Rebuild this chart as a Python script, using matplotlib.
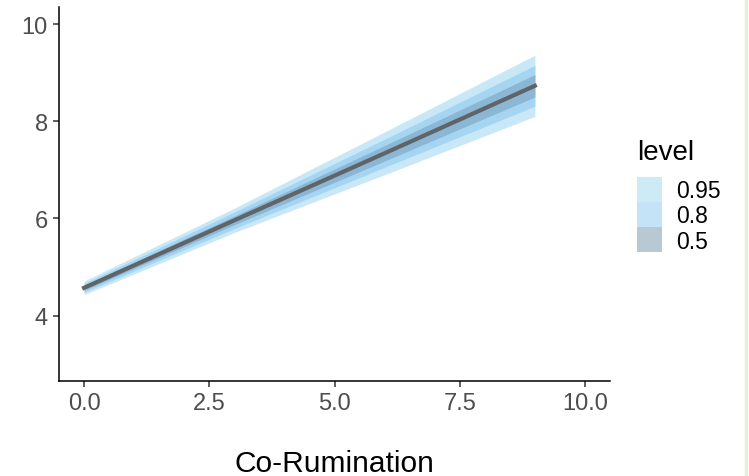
import matplotlib.pyplot as plt
from matplotlib.patches import Patch
from matplotlib.lines import Line2D

plt.rcParams['font.family'] = ['Liberation Sans', 'DejaVu Sans']

# fitted line and interval half-widths
x = [0, 3, 6, 9]
fit = [4.57, 5.96, 7.34, 8.73]
hw95 = [0.14, 0.25, 0.44, 0.63]
hw80 = [0.09, 0.17, 0.29, 0.42]
hw50 = [0.05, 0.09, 0.16, 0.23]

levels = ["0.95", "0.8", "0.5"]
band_colors = ["#c8e7f7", "#a6d5f1", "#8bb7d5"]
key_colors = ["#cdebf5", "#c4e3f7", "#b8c9d3"]

fig = plt.figure(figsize=(7.49, 4.77), dpi=100)
ax = fig.add_axes([0.0788, 0.199, 0.7356, 0.784])

for hw, col in zip([hw95, hw80, hw50], band_colors):
    lo = [f - h for f, h in zip(fit, hw)]
    hi = [f + h for f, h in zip(fit, hw)]
    ax.fill_between(x, lo, hi, color=col, linewidth=0)
ax.plot(x, fit, color="#5f6468", linewidth=3)

ax.set_xlim(-0.5, 10.5)
ax.set_ylim(2.65, 10.35)
ax.set_xticks([0, 2.5, 5, 7.5, 10])
ax.set_xticklabels(["0.0", "2.5", "5.0", "7.5", "10.0"])
ax.set_yticks([4, 6, 8, 10])
for s in ["top", "right"]:
    ax.spines[s].set_visible(False)
for s in ["left", "bottom"]:
    ax.spines[s].set_linewidth(1.1)
ax.tick_params(colors="#333333", labelcolor="#4d4d4d", labelsize=17, length=4, width=1.1)
ax.tick_params(axis="x", pad=4)
ax.tick_params(axis="y", pad=4)
ax.set_xlabel("Co-Rumination", fontsize=21.5, labelpad=25)

handles = [Patch(facecolor=c, edgecolor="none") for c in key_colors]
fig.legend(handles, levels, loc="upper left", bbox_to_anchor=(0.8505, 0.6268),
           frameon=False, fontsize=16.5, handlelength=1.1, handleheight=1.3,
           labelspacing=0.0, handletextpad=0.6, borderpad=0, borderaxespad=0)
fig.text(0.8505, 0.6646, "level", fontsize=20, va="baseline", ha="left")

# thin green border line at right edge of the screenshot
fig.add_artist(Line2D([0.9965, 0.9965], [0, 1], color="#e4f1d6", linewidth=2.5,
                      transform=fig.transFigure))

fig.savefig("out.png", dpi=100)
